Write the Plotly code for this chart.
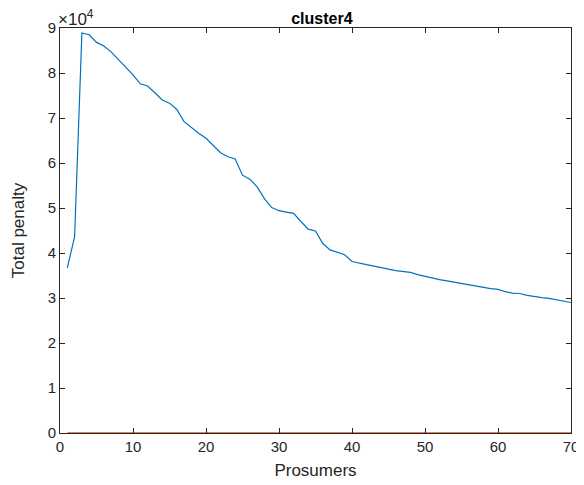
import plotly.graph_objects as go

prosumers = list(range(1, 71))
total_penalty = [
    36700, 43600, 88900, 88500, 86800, 86000, 84700, 83000, 81200, 79600,
    77600, 77100, 75600, 74000, 73300, 71900, 69200, 67800, 66600, 65500,
    63800, 62300, 61400, 60900, 57300, 56400, 54700, 52100, 50100, 49400,
    49100, 48800, 47000, 45300, 44900, 42100, 40700, 40100, 39600, 38100,
    37700, 37400, 37100, 36700, 36400, 36100, 35900, 35700, 35200, 34800,
    34500, 34100, 33800, 33500, 33300, 33000, 32700, 32300, 32100, 31900,
    31400, 31100, 31000, 30600, 30300, 30100, 29900, 29600, 29300, 29000,
]
zero_penalty = [0] * 70

y_tick_vals = [0, 10000, 20000, 30000, 40000, 50000, 60000, 70000, 80000, 90000]
y_tick_text = ["0", "1", "2", "3", "4", "5", "6", "7", "8", "9"]
x_tick_vals = [0, 10, 20, 30, 40, 50, 60, 70]

axis_col = "#262626"
font_fam = "Liberation Sans, Arial, sans-serif"

fig = go.Figure()
fig.add_trace(go.Scatter(x=prosumers, y=total_penalty, mode="lines",
                         line=dict(color="#0072BD", width=1.2), showlegend=False))
fig.add_trace(go.Scatter(x=prosumers, y=zero_penalty, mode="lines",
                         line=dict(color="#D95319", width=1.5), showlegend=False))

common = dict(showgrid=False, zeroline=False, showline=True, linecolor=axis_col,
              linewidth=1, mirror="ticks", ticks="inside", ticklen=5,
              tickcolor=axis_col, automargin=False,
              tickfont=dict(size=15, color=axis_col, family=font_fam))

fig.update_layout(
    width=576, height=477,
    margin=dict(l=52, r=13, t=20, b=52),
    paper_bgcolor="white", plot_bgcolor="white",
    title=dict(text="<b>cluster4</b>", x=0.545, xanchor="center", y=0.979, yanchor="middle",
               font=dict(size=16, color="black", family=font_fam)),
    xaxis=dict(range=[0, 70], tickvals=x_tick_vals,
               title=dict(text="Prosumers", font=dict(size=17, color=axis_col, family=font_fam), standoff=10),
               **common),
    yaxis=dict(range=[0, 90000], tickvals=y_tick_vals, ticktext=y_tick_text,
               title=dict(text="Total penalty", font=dict(size=17, color=axis_col, family=font_fam), standoff=18),
               **common),
    annotations=[dict(text="×10<sup>4</sup>", xref="paper", yref="paper", x=0, y=1.0,
                      xanchor="left", yanchor="bottom", showarrow=False, yshift=-3, xshift=-4,
                      font=dict(size=17, color=axis_col, family=font_fam))],
)

fig.write_html("out.html")
